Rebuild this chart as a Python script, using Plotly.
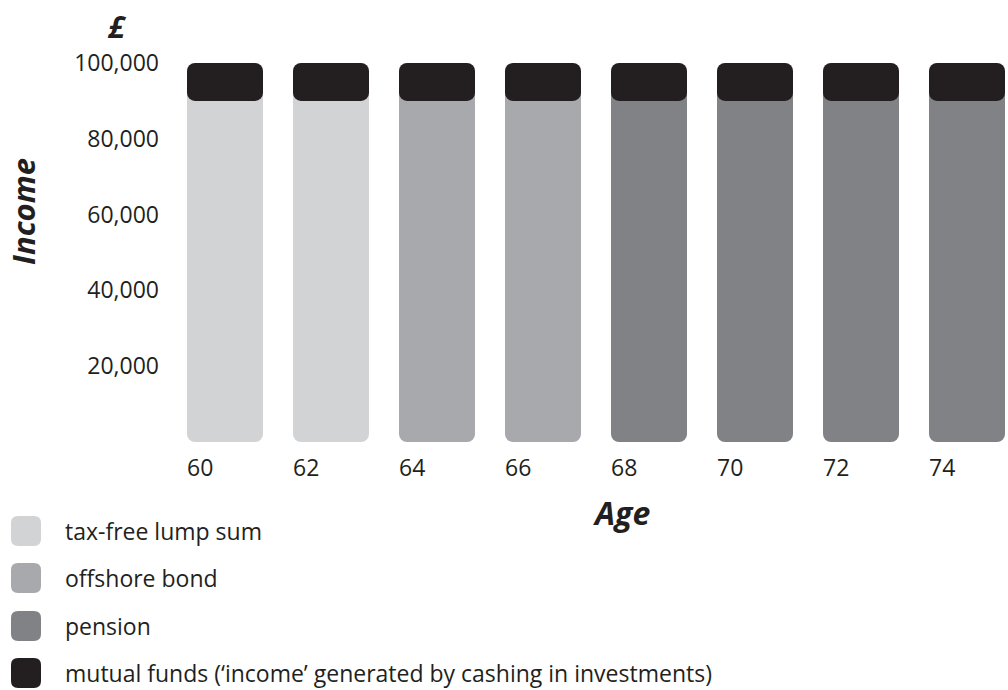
import plotly.graph_objects as go

# ---- data ----
ages = [60, 62, 64, 66, 68, 70, 72, 74]
tax_free_lump_sum = [90000, 90000, 0, 0, 0, 0, 0, 0]
offshore_bond = [0, 0, 90000, 90000, 0, 0, 0, 0]
pension = [0, 0, 0, 0, 90000, 90000, 90000, 90000]
mutual_funds = [10000, 10000, 10000, 10000, 10000, 10000, 10000, 10000]
y_ticks = [20000, 40000, 60000, 80000, 100000]

series_names = ["tax-free lump sum", "offshore bond", "pension",
                "mutual funds (\u2018income\u2019 generated by cashing in investments)"]
colors = ["#d1d3d4", "#a7a9ac", "#808285", "#231f20"]

# ---- layout constants (pixels) ----
W, H = 1008, 690
L, R, T, B = 170, 0, 63, 248
plot_w = W - L - R
plot_h = H - T - B
unit_px = 53.0           # pixels per year
x0_px = 187 - L          # left edge of first bar inside plot
bar_w = 76 / unit_px
xr0 = ages[0] - x0_px / unit_px
xr1 = xr0 + plot_w / unit_px
FONT = "Open Sans"
TXT = "#231f20"
RADIUS = 8

fig = go.Figure()

lower_series = [tax_free_lump_sum, offshore_bond, pension]
for vals, name, col in zip(lower_series, series_names[:3], colors[:3]):
    xs, bases, ys = [], [], []
    for a, v, m in zip(ages, vals, mutual_funds):
        if v > 0:
            xs.append(a)
            bases.append(0)
            ys.append(v + m / 2)
    fig.add_trace(go.Bar(x=xs, y=ys, base=bases, name=name, width=bar_w, offset=0,
                         marker=dict(color=col, line=dict(width=0), cornerradius=RADIUS),
                         showlegend=False, hoverinfo="skip"))

lower_tot = [a + b + c for a, b, c in zip(*lower_series)]
fig.add_trace(go.Bar(x=ages, y=mutual_funds, base=lower_tot, width=bar_w, offset=0,
                     marker=dict(color=colors[3], line=dict(width=0), cornerradius=RADIUS),
                     name=series_names[3], showlegend=False, hoverinfo="skip"))


def px_to_paper(px, py):
    return (px - L) / plot_w, (H - B - py) / plot_h


shapes = []
annotations = []
leg_y = [531, 578, 626, 673]
for name, col, cy in zip(series_names, colors, leg_y):
    x1p, x2p = 11, 41
    y1p, y2p = cy - 15, cy + 15
    r = 7

    def P(x, y):
        a, b = px_to_paper(x, y)
        return f"{a:.5f},{b:.5f}"
    path = (f"M {P(x1p + r, y1p)} L {P(x2p - r, y1p)} Q {P(x2p, y1p)} {P(x2p, y1p + r)} "
            f"L {P(x2p, y2p - r)} Q {P(x2p, y2p)} {P(x2p - r, y2p)} "
            f"L {P(x1p + r, y2p)} Q {P(x1p, y2p)} {P(x1p, y2p - r)} "
            f"L {P(x1p, y1p + r)} Q {P(x1p, y1p)} {P(x1p + r, y1p)} Z")
    shapes.append(dict(type="path", xref="paper", yref="paper", path=path,
                       fillcolor=col, line=dict(width=0), layer="above"))
    ax, ay = px_to_paper(63, cy)
    annotations.append(dict(x=ax, y=ay, xref="paper", yref="paper", text=name,
                            showarrow=False, xanchor="left", yanchor="middle",
                            font=dict(family=FONT, size=23, color=TXT)))

ax, ay = px_to_paper(117, 26)
annotations.append(dict(x=ax, y=ay, xref="paper", yref="paper", text="<b><i>£</i></b>",
                        showarrow=False, xanchor="center", yanchor="middle",
                        font=dict(family=FONT, size=30, color=TXT)))
ax, ay = px_to_paper(23, 212)
annotations.append(dict(x=ax, y=ay, xref="paper", yref="paper", text="<b><i>Income</i></b>",
                        showarrow=False, xanchor="center", yanchor="middle", textangle=-90,
                        font=dict(family=FONT, size=31, color=TXT)))
ax, ay = px_to_paper(621, 512)
annotations.append(dict(x=ax, y=ay, xref="paper", yref="paper", text="<b><i>Age</i></b>",
                        showarrow=False, xanchor="center", yanchor="middle",
                        font=dict(family=FONT, size=32, color=TXT)))

fig.update_layout(
    width=W, height=H,
    margin=dict(l=L, r=R, t=T, b=B, pad=0),
    barmode="overlay",
    plot_bgcolor="white", paper_bgcolor="white",
    showlegend=False,
    shapes=shapes, annotations=annotations,
    font=dict(family=FONT, size=23, color=TXT),
    xaxis=dict(range=[xr0, xr1], tickvals=ages, ticktext=[str(a) for a in ages],
               ticklabelposition="outside right", showgrid=False, zeroline=False,
               showline=False, ticks="", ticklabelstandoff=10,
               tickfont=dict(family=FONT, size=23, color=TXT), fixedrange=True),
    yaxis=dict(range=[0, 100000], tickvals=y_ticks, tickformat=",", showgrid=False,
               zeroline=False, showline=False, ticks="", ticklabelstandoff=10,
               tickfont=dict(family=FONT, size=23, color=TXT), fixedrange=True),
)

fig.write_html("out.html")
